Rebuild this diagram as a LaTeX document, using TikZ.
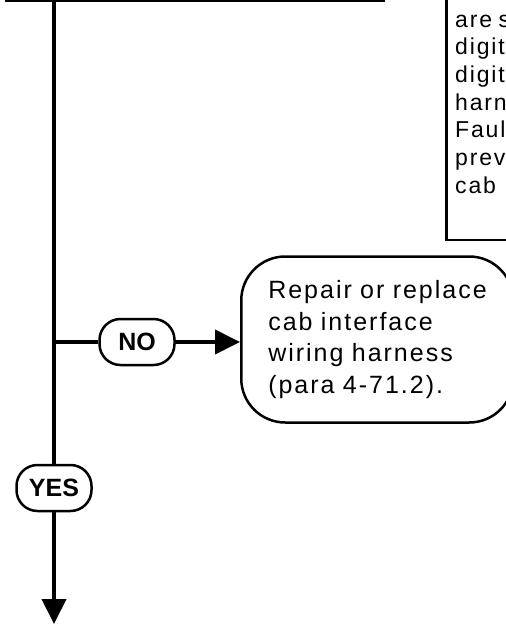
\documentclass[tikz,border=0pt]{standalone}
\usepackage{fontspec}
\setmainfont{Liberation Sans}
\newfontfamily\stepfont[LetterSpace=8, WordSpace=0.8]{Liberation Sans}
\usetikzlibrary{arrows.meta, positioning}

\begin{document}
\begin{tikzpicture}[
  x=1pt, y=-1pt,
  flow/.style={line width=4pt},
  arr/.style={flow, -{Triangle[length=25pt, width=24pt]}},
  infobox/.style={draw, line width=2.5pt, fill=white},
  action/.style={draw, line width=2.5pt, rounded corners=44pt, align=left,
                 text width=218pt, inner xsep=27pt, minimum height=166pt,
                 font=\stepfont\fontsize{25}{31.7}\selectfont},
  answer/.style={draw, line width=2.5pt, fill=white, rounded corners=21pt,
                 minimum width=75pt, minimum height=46pt, inner sep=0pt,
                 font=\fontsize{25}{25}\selectfont\bfseries},
  notetext/.style={anchor=base west, inner sep=0pt,
                   font=\stepfont\fontsize{23}{27}\selectfont}
]
\useasboundingbox (0,0) rectangle (506,625);
\clip (0,0) rectangle (506,625);

% boxes cut off by the page edge
\node[infobox, anchor=south west, minimum width=377pt, minimum height=40pt] (check) at (5,2) {};
\node[infobox, anchor=south west, minimum width=100pt, minimum height=280pt] (note) at (445,241) {};
\foreach \t [count=\i] in {are s, digit, digit, harn, Faul, prev, cab}
  \node[notetext] (note\i) at (455,{27+27.7*(\i-1)}) {\t};

\coordinate (top) at (54,2);
\coordinate (branch) at (54,342);
\coordinate (bottom) at (54,624);

\node[answer] (no) at (137,342) {NO};
\node[action, anchor=west] (repair) at (240,339.5)
  {Repair or replace\\cab interface\\wiring harness\\(para 4-71.2).};
\node[answer] (yes) at (54,488) {YES};

\draw[flow] (top) -- (yes);
\draw[flow] (branch) -- (no);
\draw[arr] (no) -- (no -| repair.west);
\draw[arr] (yes) -- (bottom);
\end{tikzpicture}
\end{document}
